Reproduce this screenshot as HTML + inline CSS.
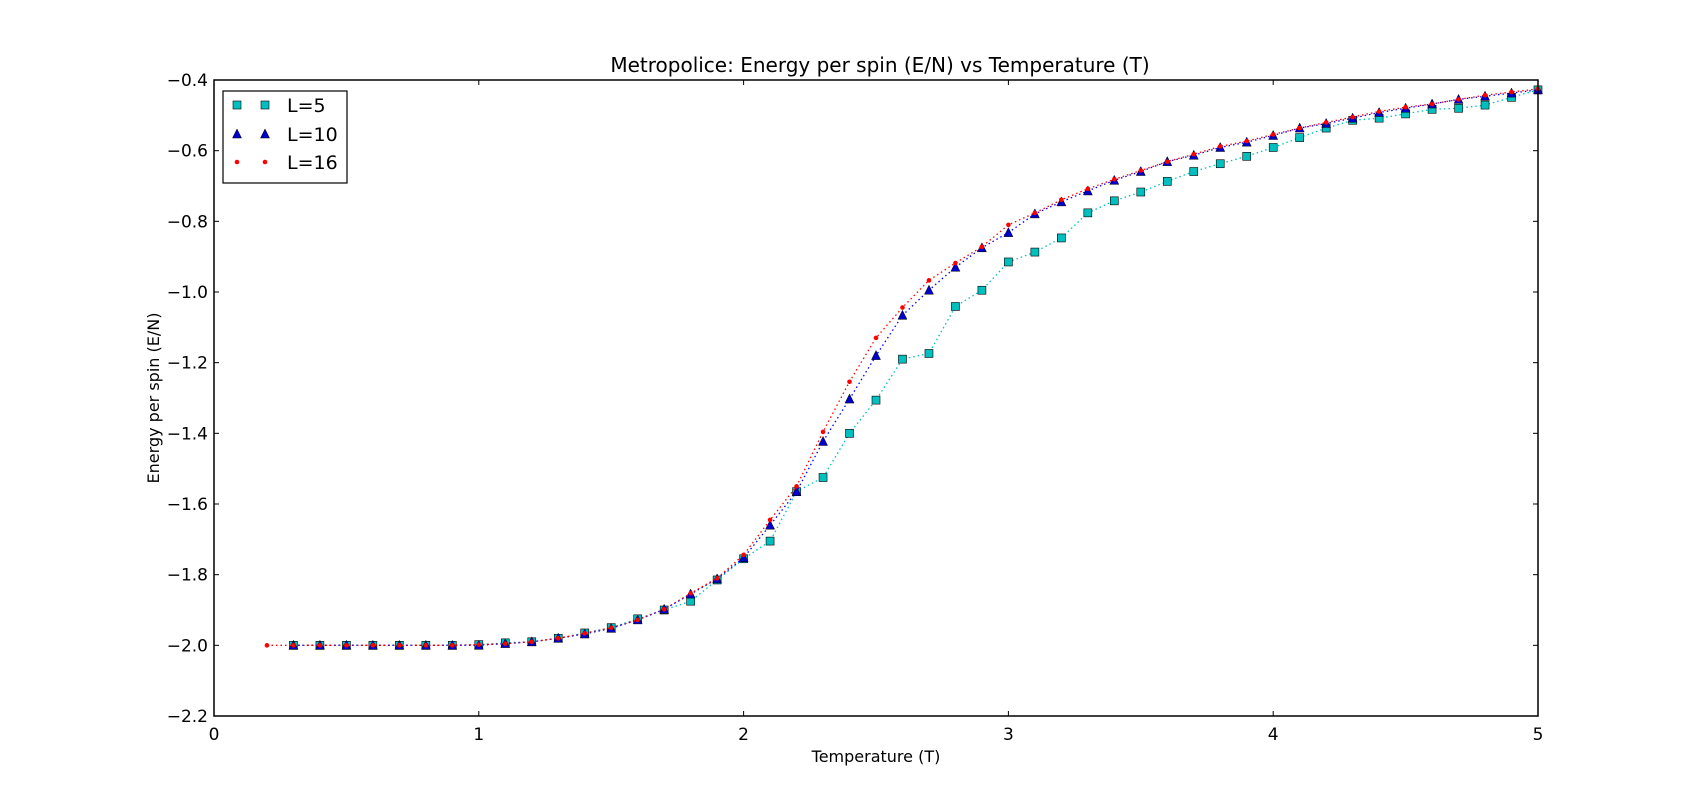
<!DOCTYPE html>
<html><head><meta charset="utf-8"><style>
body{margin:0;background:#fff;}
svg{display:block;font-family:"DejaVu Sans","Liberation Sans",sans-serif;}
</style></head><body>
<svg id="chart" width="1707" height="795"></svg>
<script>
const temps5 = [0.3,0.4,0.5,0.6,0.7,0.8,0.9,1.0,1.1,1.2,1.3,1.4,1.5,1.6,1.7,1.8,1.9,2.0,2.1,2.2,2.3,2.4,2.5,2.6,2.7,2.8,2.9,3.0,3.1,3.2,3.3,3.4,3.5,3.6,3.7,3.8,3.9,4.0,4.1,4.2,4.3,4.4,4.5,4.6,4.7,4.8,4.9,5.0];
const energyL5 = [-2,-2,-2,-2,-2,-2,-2,-1.998,-1.993,-1.99,-1.98,-1.965,-1.95,-1.925,-1.9,-1.875,-1.815,-1.755,-1.705,-1.565,-1.525,-1.40,-1.306,-1.19,-1.174,-1.041,-0.995,-0.915,-0.887,-0.847,-0.776,-0.742,-0.717,-0.687,-0.659,-0.637,-0.616,-0.591,-0.563,-0.536,-0.514,-0.508,-0.496,-0.483,-0.480,-0.471,-0.449,-0.428];
const energyL10 = [-2,-2,-2,-2,-2,-2,-2,-2,-1.995,-1.99,-1.98,-1.968,-1.952,-1.928,-1.898,-1.855,-1.812,-1.752,-1.66,-1.565,-1.423,-1.303,-1.18,-1.066,-0.995,-0.93,-0.875,-0.832,-0.779,-0.745,-0.714,-0.684,-0.659,-0.631,-0.613,-0.591,-0.576,-0.557,-0.536,-0.523,-0.508,-0.492,-0.480,-0.468,-0.455,-0.446,-0.437,-0.428];
const temps16 = [0.2,0.3,0.4,0.5,0.6,0.7,0.8,0.9,1.0,1.1,1.2,1.3,1.4,1.5,1.6,1.7,1.8,1.9,2.0,2.1,2.2,2.3,2.4,2.5,2.6,2.7,2.8,2.9,3.0,3.1,3.2,3.3,3.4,3.5,3.6,3.7,3.8,3.9,4.0,4.1,4.2,4.3,4.4,4.5,4.6,4.7,4.8,4.9,5.0];
const energyL16 = [-2,-2,-2,-2,-2,-2,-2,-2,-1.998,-1.995,-1.99,-1.98,-1.966,-1.95,-1.928,-1.898,-1.853,-1.81,-1.744,-1.645,-1.55,-1.396,-1.254,-1.13,-1.044,-0.967,-0.918,-0.872,-0.81,-0.776,-0.739,-0.708,-0.681,-0.656,-0.631,-0.61,-0.588,-0.573,-0.554,-0.536,-0.52,-0.505,-0.489,-0.477,-0.468,-0.455,-0.443,-0.434,-0.425];
const xTicks = [0,1,2,3,4,5];
const xTickLabels = ["0","1","2","3","4","5"];
const yTicks = [-0.4,-0.6,-0.8,-1.0,-1.2,-1.4,-1.6,-1.8,-2.0,-2.2];
const yTickLabels = ["\u22120.4","\u22120.6","\u22120.8","\u22121.0","\u22121.2","\u22121.4","\u22121.6","\u22121.8","\u22122.0","\u22122.2"];

const L=214,R=1538,T=80,B=716;
const sx=v=>L+(v-0)/(5-0)*(R-L);
const sy=v=>T+(-0.4-v)/(1.8)*(B-T);
const NS="http://www.w3.org/2000/svg";
const svg=document.getElementById('chart');
function mk(tag,attrs,parent){const e=document.createElementNS(NS,tag);for(const k in attrs)e.setAttribute(k,attrs[k]);(parent||svg).appendChild(e);return e;}

let t=mk('text',{x:(L+R)/2+4,y:72,'text-anchor':'middle','font-size':20});
t.textContent='Metropolice: Energy per spin (E/N) vs Temperature (T)';



xTicks.forEach((v,i)=>{
  const x=sx(v);
  let a=mk('line',{x1:x,x2:x,y1:B,y2:B-5,stroke:'#000'});
  
  
  let b=mk('line',{x1:x,x2:x,y1:T,y2:T+5,stroke:'#000'});
  
  
  let tx=mk('text',{x:x,y:B+24,'text-anchor':'middle','font-size':17});
  tx.textContent=xTickLabels[i];
  
  
});
yTicks.forEach((v,i)=>{
  const y=sy(v);
  let a=mk('line',{x1:L,x2:L+5,y1:y,y2:y,stroke:'#000'});
  
  
  let b=mk('line',{x1:R,x2:R-5,y1:y,y2:y,stroke:'#000'});
  
  
  let tx=mk('text',{x:L-6,y:y+6,'text-anchor':'end','font-size':17});
  tx.textContent=yTickLabels[i];
  
  
});

let xl=mk('text',{x:(L+R)/2,y:762,'text-anchor':'middle','font-size':16});
xl.textContent='Temperature (T)';


let yl=mk('text',{x:0,y:0,'text-anchor':'middle','font-size':16,transform:`translate(159,${(T+B)/2}) rotate(-90)`});
yl.textContent='Energy per spin (E/N)';



function series(xs,ys,color,kind,name){
  const g=mk('g',{});
  
  
  const pts=xs.map((x,i)=>sx(x).toFixed(1)+','+sy(ys[i]).toFixed(1)).join(' ');
  mk('polyline',{points:pts,fill:'none',stroke:color,'stroke-width':1.3,'stroke-dasharray':'1.5,3'},g);
  xs.forEach((x,i)=>{
    const cx=sx(x),cy=sy(ys[i]);
    let m;
    if(kind==='s') m=mk('rect',{x:cx-4,y:cy-4,width:8,height:8,fill:'#00bfbf',stroke:'#000','stroke-width':0.6},g);
    else if(kind==='t') m=mk('polygon',{points:`${cx},${cy-5} ${cx-4.5},${cy+4} ${cx+4.5},${cy+4}`,fill:'#0000cc',stroke:'#000','stroke-width':0.5},g);
    else m=mk('circle',{cx:cx,cy:cy,r:2.3,fill:'#ff0000'},g);
    
    
  });
}
series(temps5,energyL5,'#00bfbf','s','series-l5');
series(temps5,energyL10,'#0000ff','t','series-l10');
series(temps16,energyL16,'#ff0000','c','series-l16');

let fr=mk('rect',{x:L,y:T,width:R-L,height:B-T,fill:'none',stroke:'#000','stroke-width':1.5});



const lg=mk('g',{});


mk('rect',{x:223,y:91,width:124,height:92,fill:'#fff',stroke:'#000','stroke-width':1.2},lg);
const entries=[['L=5','s',105],['L=10','t',134],['L=16','c',162]];
entries.forEach(([lab,k,y])=>{
  const e=mk('g',{},lg);
  
  
  [237,265].forEach(cx=>{
    if(k==='s') mk('rect',{x:cx-4,y:y-4,width:8,height:8,fill:'#00bfbf',stroke:'#000','stroke-width':0.6},e);
    else if(k==='t') mk('polygon',{points:`${cx},${y-5} ${cx-4.5},${y+4} ${cx+4.5},${y+4}`,fill:'#0000cc',stroke:'#000','stroke-width':0.5},e);
    else mk('circle',{cx:cx,cy:y,r:2.3,fill:'#ff0000'},e);
  });
  let tx=mk('text',{x:287,y:y+7,'font-size':19},e);
  tx.textContent=lab;
});
</script>
</body></html>
